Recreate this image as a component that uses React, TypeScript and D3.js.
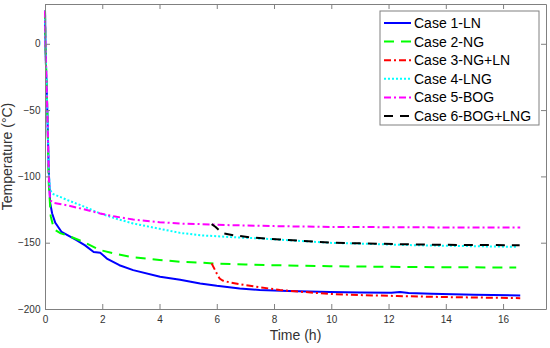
import React, { useRef, useEffect } from 'react';
import * as d3 from 'd3';

// Case 1-LN
const case1Time = [0, 0.02, 0.08, 0.13, 0.18, 0.25, 0.36, 0.58, 0.8, 1.1, 1.4, 1.7, 1.93, 2.16, 2.6, 3.08, 4.02, 4.72, 5.42, 6, 6.8, 7.5, 8.5, 9.95, 11, 12.1, 12.4, 12.7, 13.5, 15, 16.6];
const case1Temp = [25, -5, -50, -95, -120, -128, -135, -141.9, -144.5, -148, -152, -157, -157.5, -162, -167, -170.7, -175.7, -178, -180.7, -182.5, -184.5, -185.7, -186.5, -187.2, -187.5, -187.8, -187.2, -188, -188.5, -189.3, -189.8];

// Case 2-NG
const case2Time = [0, 0.02, 0.08, 0.13, 0.2, 0.28, 0.36, 0.55, 0.77, 1.3, 1.93, 2.5, 3.08, 4, 4.7, 5.4, 6, 7, 8, 9.95, 12, 14, 16.46];
const case2Temp = [25, -5, -50, -105, -130, -137, -140.6, -143, -144.4, -149, -155.6, -158.5, -161, -163, -164.4, -165, -165.8, -166.5, -167, -167.7, -168.2, -168.5, -168.7];

// Case 3-NG+LN
const case3Time = [5.82, 5.9, 6, 6.1, 6.2, 6.46, 7, 8.2, 9.95, 11, 12.3, 14, 16.6];
const case3Temp = [-165.6, -169, -173.2, -177, -178.5, -180, -182, -185.7, -188.7, -189.5, -190.2, -191, -191.8];

// Case 4-LNG
const case4Time = [0, 0.02, 0.08, 0.14, 0.18, 0.3, 0.53, 0.8, 1.1, 1.5, 1.93, 2.5, 3.08, 4, 4.72, 5.42, 6.5, 7.6, 8.8, 9.95, 11.5, 12.85, 14.5, 16.46];
const case4Temp = [25, -5, -50, -100, -110.5, -113.5, -115.5, -118, -120.5, -124, -128, -132, -135.5, -139.5, -142.6, -144.4, -145.8, -146.9, -148.5, -150.1, -151, -151.9, -152.5, -153.1];

// Case 5-BOG
const case5Time = [0, 0.02, 0.08, 0.14, 0.18, 0.3, 0.42, 0.77, 1.3, 1.93, 2.5, 3.08, 4, 4.72, 5.42, 6.5, 8, 9.95, 12, 14, 16.6];
const case5Temp = [25, -5, -50, -105, -118, -120, -120.5, -121.8, -124.5, -128, -130.5, -132.5, -134.5, -135.6, -136, -136.8, -137.5, -138.1, -138.3, -138.5, -138.6];

// Case 6-BOG+LNG
const case6Time = [5.82, 5.95, 6.1, 6.23, 6.6, 7.2, 8.2, 9.95, 11, 12.3, 14, 16.58];
const case6Temp = [-136, -138, -141, -143, -144.5, -146, -147.6, -149.9, -150.5, -151.1, -151.6, -151.9];

const caseNames = ['Case 1-LN', 'Case 2-NG', 'Case 3-NG+LN', 'Case 4-LNG', 'Case 5-BOG', 'Case 6-BOG+LNG'];
const xTicks = [0, 2, 4, 6, 8, 10, 12, 14, 16];
const yTicks = [0, -50, -100, -150, -200];

const series = [
  { name: caseNames[0], time: case1Time, temp: case1Temp, color: '#0000ff', dash: null },
  { name: caseNames[1], time: case2Time, temp: case2Temp, color: '#00ff00', dash: '10,7' },
  { name: caseNames[2], time: case3Time, temp: case3Temp, color: '#ff0000', dash: '7,3,2,3' },
  { name: caseNames[3], time: case4Time, temp: case4Temp, color: '#00ffff', dash: '2,2' },
  { name: caseNames[4], time: case5Time, temp: case5Temp, color: '#ff00ff', dash: '7,3,2,3' },
  { name: caseNames[5], time: case6Time, temp: case6Temp, color: '#000000', dash: '9,7' },
];

const App = () => {
  const svgRef = useRef<SVGSVGElement>(null);

  useEffect(() => {
    const width = 550;
    const height = 348;
    const margin = { top: 4, right: 4, bottom: 39, left: 45 };
    const axisColor = '#808080';
    const textColor = '#333333';
    const font = '"Liberation Sans", Arial, sans-serif';

    const svg = d3.select(svgRef.current);
    svg.selectAll('*').remove();
    svg.attr('width', width).attr('height', height).style('font-family', font);

    const x = d3.scaleLinear().domain([0, 17.5]).range([margin.left, width - margin.right]);
    const y = d3.scaleLinear().domain([-200, 30]).range([height - margin.bottom, margin.top]);

    svg.append('rect')
      .attr('x', margin.left).attr('y', margin.top)
      .attr('width', x(17.5) - x(0)).attr('height', y(-200) - y(30))
      .attr('fill', '#fff');

    // lines
    const line = d3.line<[number, number]>()
      .x(d => x(d[0]))
      .y(d => y(d[1]));

    series.forEach(s => {
      const pts = s.time.map((t, i) => [t, s.temp[i]] as [number, number]);
      svg.append('path')
        .attr('d', line(pts))
        .attr('fill', 'none')
        .attr('stroke', s.color)
        .attr('stroke-width', 2)
        .attr('stroke-dasharray', s.dash)
        .attr('stroke-linejoin', 'round');
    });

    // axes (box with ticks inside on all sides)
    const bottom = svg.append('g').attr('transform', `translate(0,${y(-200)})`)
      .call(d3.axisBottom(x).tickValues(xTicks).tickSizeInner(-5).tickSizeOuter(0).tickPadding(7));
    const top = svg.append('g').attr('transform', `translate(0,${y(30)})`)
      .call(d3.axisTop(x).tickValues(xTicks).tickSizeInner(-5).tickSizeOuter(0).tickFormat(() => ''));
    const left = svg.append('g').attr('transform', `translate(${x(0)},0)`)
      .call(d3.axisLeft(y).tickValues(yTicks).tickSizeInner(-5).tickSizeOuter(0).tickPadding(4.5));
    const right = svg.append('g').attr('transform', `translate(${x(17.5)},0)`)
      .call(d3.axisRight(y).tickValues(yTicks).tickSizeInner(-5).tickSizeOuter(0).tickFormat(() => ''));

    [bottom, top, left, right].forEach(g => {
      g.selectAll('path').attr('stroke', axisColor);
      g.selectAll('line').attr('stroke', axisColor);
      g.selectAll('text').attr('fill', textColor).style('font-size', '10px').style('font-family', font);
    });

    // axis titles
    svg.append('text')
      .attr('x', (x(0) + x(17.5)) / 2).attr('y', 340)
      .attr('text-anchor', 'middle')
      .attr('fill', textColor)
      .style('font-size', '14px')
      .text('Time (h)');

    svg.append('text')
      .attr('transform', `translate(11.5,${(y(30) + y(-200)) / 2}) rotate(-90)`)
      .attr('text-anchor', 'middle')
      .attr('fill', textColor)
      .style('font-size', '14px')
      .text('Temperature (°C)');

    // legend
    const legend = svg.append('g').attr('transform', 'translate(380,11)');
    legend.append('rect')
      .attr('width', 159).attr('height', 114)
      .attr('fill', '#fff').attr('stroke', axisColor);

    series.forEach((s, i) => {
      const ly = 12 + i * 18.6;
      legend.append('line')
        .attr('x1', 4).attr('x2', 31)
        .attr('y1', ly).attr('y2', ly)
        .attr('stroke', s.color).attr('stroke-width', 2)
        .attr('stroke-dasharray', s.dash);
      legend.append('text')
        .attr('x', 34).attr('y', ly + 5)
        .attr('fill', '#000')
        .style('font-size', '14px')
        .text(s.name);
    });
  }, []);

  return (
    <div style={{ position: 'absolute', left: 0, top: 0 }}>
      <svg ref={svgRef}></svg>
    </div>
  );
};

export default App;
